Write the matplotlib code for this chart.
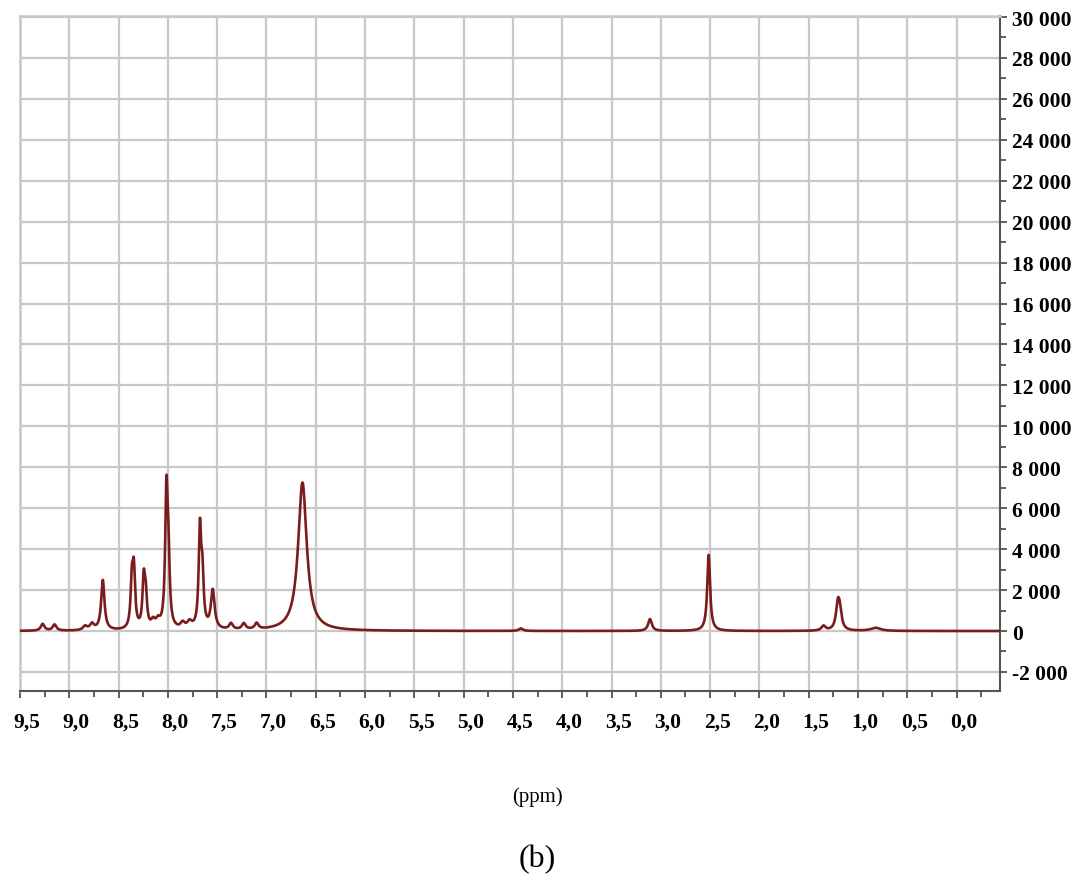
import numpy as np
import matplotlib
matplotlib.use("Agg")
import matplotlib.pyplot as plt
import matplotlib.transforms as mtransforms

# peaks: position (ppm), height, line width (ppm)
peak_ppm = [9.27, 9.15, 8.84, 8.77, 8.66, 8.365, 8.345, 8.245, 8.225, 8.15, 8.10,
            8.015, 7.995, 7.85, 7.78, 7.675, 7.65, 7.545, 7.36, 7.23, 7.10, 6.635,
            4.42, 3.11, 2.515, 1.35, 1.205, 1.185, 0.82]
peak_height = [330, 300, 200, 300, 2450, 2200, 2650, 2300, 1500, 350, 350,
               6400, 3000, 280, 330, 4750, 2400, 1900, 300, 300, 300, 7250,
               120, 580, 3720, 230, 1150, 800, 150]
peak_width = [0.045, 0.045, 0.05, 0.05, 0.04, 0.03, 0.03, 0.03, 0.03, 0.05, 0.05,
              0.03, 0.03, 0.05, 0.06, 0.03, 0.03, 0.045, 0.045, 0.045, 0.045, 0.105,
              0.05, 0.045, 0.035, 0.05, 0.045, 0.045, 0.12]

y_ticks = list(range(-2000, 30001, 2000))
x_ticks = [9.5, 9.0, 8.5, 8.0, 7.5, 7.0, 6.5, 6.0, 5.5, 5.0, 4.5, 4.0,
           3.5, 3.0, 2.5, 2.0, 1.5, 1.0, 0.5, 0.0]

ppm = np.linspace(9.5, -0.44, 6000)
signal = np.zeros_like(ppm)
for c, h, w in zip(peak_ppm, peak_height, peak_width):
    signal += h / (1 + ((ppm - c) / (w / 2)) ** 2)

fig = plt.figure(figsize=(10.85, 8.79), dpi=100)
ax = fig.add_axes([20 / 1085, 1 - 692 / 879, 980 / 1085, 675 / 879])

grid_col = "#c8c8c8"
ax.plot(ppm, signal, color="#7a1c1c", lw=1.9, zorder=3)

ax.set_xlim(9.5, -0.44)
ax.set_ylim(-2930, 30050)

ax.set_xticks(x_ticks)
ax.set_xticklabels([f"{v:.1f}".replace(".", ",") for v in x_ticks])
ax.set_xticks(np.arange(9.25, -0.44, -0.5), minor=True)
ax.set_yticks(y_ticks)
ax.set_yticklabels([f"{v:,}".replace(",", " ") for v in y_ticks])
ax.set_yticks(range(-1000, 30000, 2000), minor=True)

ax.yaxis.tick_right()
ax.grid(True, color=grid_col, lw=1.6, zorder=0)
ax.set_axisbelow(True)

for s in ["left", "top"]:
    ax.spines[s].set_color(grid_col)
    ax.spines[s].set_linewidth(1.8)
for s in ["right", "bottom"]:
    ax.spines[s].set_color("#555555")
    ax.spines[s].set_linewidth(1.5)

ax.tick_params(axis="both", which="both", direction="out", color="#444444", width=1.2)
ax.tick_params(axis="both", which="major", length=5)
ax.tick_params(axis="both", which="minor", length=4)
ax.tick_params(axis="x", pad=10)
ax.tick_params(axis="y", pad=4)

for lab in ax.get_xticklabels() + ax.get_yticklabels():
    lab.set_fontfamily("Liberation Serif")
    lab.set_fontweight("bold")
    lab.set_fontsize(15.5)
offset = mtransforms.ScaledTranslation(0.07, 0, fig.dpi_scale_trans)
for lab in ax.get_xticklabels():
    lab.set_transform(lab.get_transform() + offset)

fig.text(537 / 1085, 1 - 797 / 879, "(ppm)", family="Liberation Serif",
         fontsize=15, ha="center", va="center")
fig.text(537 / 1085, 1 - 860 / 879, "(b)", family="Liberation Serif",
         fontsize=23, ha="center", va="center")

fig.savefig("out.png", dpi=100)
